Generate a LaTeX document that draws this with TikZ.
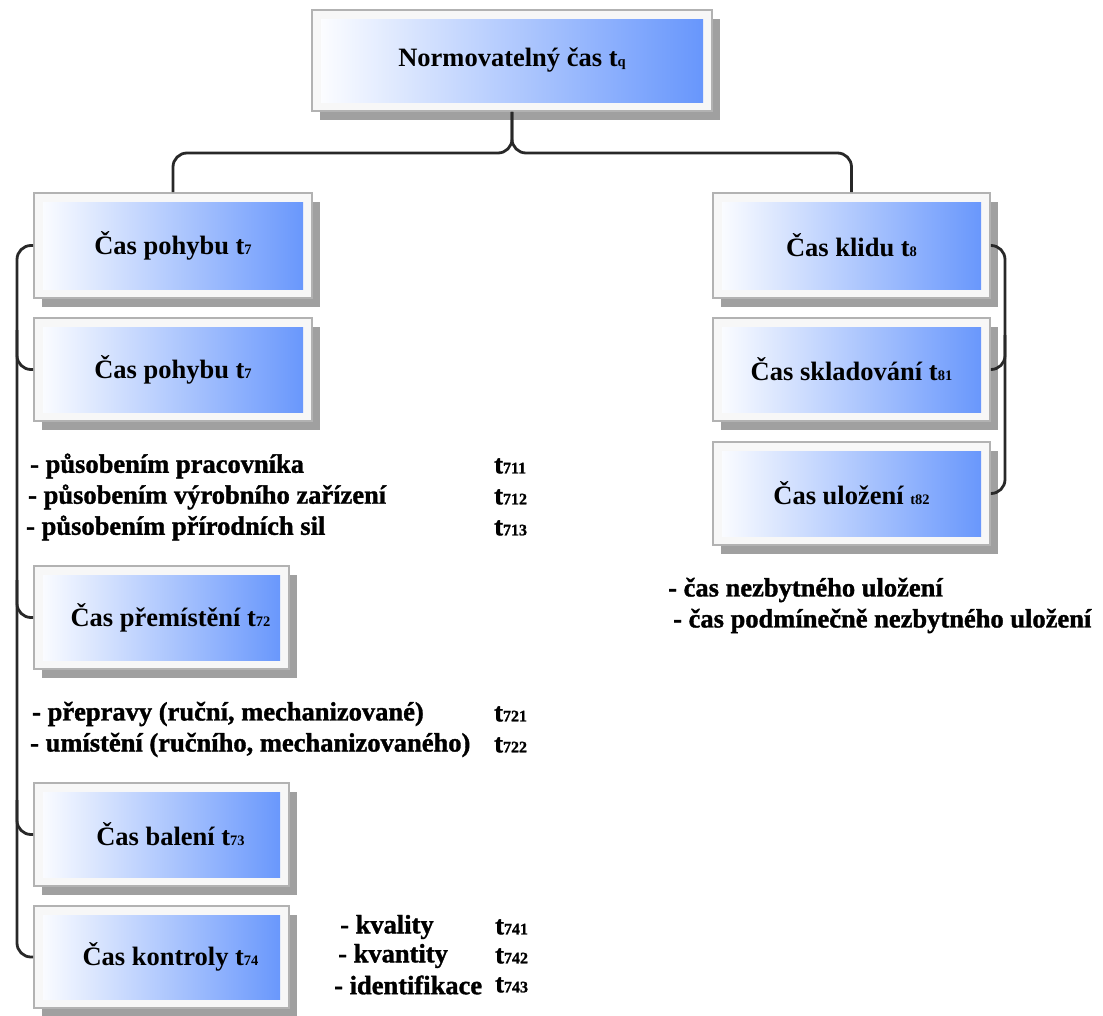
\documentclass[tikz,border=0pt]{standalone}
\usepackage{fontspec}
\setmainfont{LiberationSerif}[Extension=.ttf, UprightFont=*-Regular, BoldFont=*-Bold, ItalicFont=*-Italic, BoldItalicFont=*-BoldItalic]
% heavier face for the item lists
\newfontfamily\heavyfont{LiberationSerif}[Extension=.ttf, UprightFont=*-Bold, BoldFont=*-Bold, BoldFeatures={FakeBold=1.3}]
\usetikzlibrary{shadows}

\definecolor{boxblue}{RGB}{100,148,252}
\definecolor{framegray}{RGB}{178,178,178}
\definecolor{shadowgray}{RGB}{160,160,160}
\definecolor{linegray}{RGB}{40,40,40}

% small index digits after "t"
\newcommand\idx[1]{{\fontsize{14.5}{14}\selectfont #1}}
\newcommand\lidx[1]{{\fontsize{16}{14}\selectfont #1}}

\tikzset{
  gbox/.style={
    rectangle, inner sep=0pt, draw=framegray, line width=1.8pt, fill=gray!6,
    general shadow={fill=shadowgray, shadow xshift=8pt, shadow yshift=-9pt},
    path picture={\shade[left color=white, right color=boxblue]
      ([shift={(9pt,9pt)}]path picture bounding box.south west) rectangle
      ([shift={(-9pt,-9pt)}]path picture bounding box.north east);},
    font=\fontsize{26.5}{30}\selectfont\bfseries, text=black},
  conn/.style={draw=linegray, line width=2.8pt, rounded corners=14pt},
  item/.style={anchor=west, inner sep=0pt, font=\fontsize{26.5}{30}\selectfont\heavyfont\bfseries},
}

\begin{document}
\begin{tikzpicture}[x=1pt, y=-1pt]
\useasboundingbox (0,0) rectangle (1103,1015);

% top box
\node[gbox, minimum width=400pt, minimum height=101pt] (top) at (512,60.5)
  {Normovatelný čas t\idx{q}};

% left column
\node[gbox, minimum width=278pt, minimum height=105pt] (L1) at (173,245.5) {Čas pohybu t\idx{7}};
\node[gbox, minimum width=278pt, minimum height=103pt] (L2) at (173,369.5) {Čas pohybu t\idx{7}};
\node[gbox, minimum width=255pt, minimum height=103pt] (L3) at (161.5,617.5) {\hspace*{18pt}Čas přemístění t\idx{72}};
\node[gbox, minimum width=255pt, minimum height=103pt] (L4) at (161.5,834.5) {\hspace*{18pt}Čas balení t\idx{73}};
\node[gbox, minimum width=255pt, minimum height=102pt] (L5) at (161.5,957) {\hspace*{18pt}Čas kontroly t\idx{74}};

% right column
\node[gbox, minimum width=277pt, minimum height=105pt] (R1) at (851.5,245.5) {Čas klidu t\idx{8}};
\node[gbox, minimum width=277pt, minimum height=103pt] (R2) at (851.5,369.5) {Čas skladování t\idx{81}};
\node[gbox, minimum width=277pt, minimum height=103pt] (R3) at (851.5,493.5) {Čas uložení \idx{t82}};

% connectors from the top box
\draw[conn] (top.south) -- (top.south |- 0,153) -| (L1.north);
\draw[conn] (top.south) -- (top.south |- 0,153) -| (R1.north);

% left bracket
\draw[conn] (L1.west) -- (17,245.5) |- (L5.west);
\draw[conn] (L2.west) -| (17,330);
\draw[conn] (L3.west) -| (17,580);
\draw[conn] (L4.west) -| (17,800);

% right bracket
\draw[conn] (R1.east) -- (1005,245.5) |- (R3.east);
\draw[conn] (R2.east) -| (1005,335);

% items under the second box
\node[item] (a1) at (30,466) {- působením pracovníka};
\node[item] (a2) at (28,497) {- působením výrobního zařízení};
\node[item] (a3) at (26,528) {- působením přírodních sil};
\node[item] (a1t) at (494,466) {t\lidx{711}};
\node[item] (a2t) at (494,497) {t\lidx{712}};
\node[item] (a3t) at (494,528) {t\lidx{713}};

% items under the transfer box
\node[item] (b1) at (32,714) {- přepravy (ruční, mechanizované)};
\node[item] (b2) at (30,745) {- umístění (ručního, mechanizovaného)};
\node[item] (b1t) at (494,714) {t\lidx{721}};
\node[item] (b2t) at (494,745) {t\lidx{722}};

% items beside the control box
\node[item] (c1) at (340,927) {- kvality};
\node[item] (c2) at (338,956) {- kvantity};
\node[item] (c3) at (334,985) {- identifikace};
\node[item] (c1t) at (495,927) {t\lidx{741}};
\node[item] (c2t) at (495,956) {t\lidx{742}};
\node[item] (c3t) at (495,985) {t\lidx{743}};

% items under the storage boxes
\node[item] (d1) at (668,590) {- čas nezbytného uložení};
\node[item] (d2) at (673,621) {- čas podmínečně nezbytného uložení};
\end{tikzpicture}
\end{document}
